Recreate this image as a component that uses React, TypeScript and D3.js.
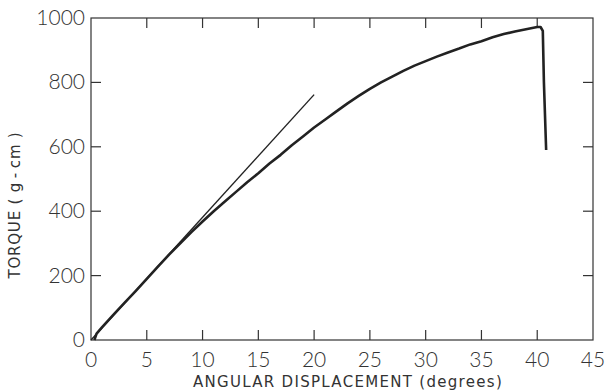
import React, { useEffect, useRef } from "react";
import * as d3 from "d3";

// measured curve, torque (g-cm) vs angular displacement (degrees)
const angle = [0.3, 0.5, 1, 2, 3, 4, 5, 6, 7, 8, 9, 10, 11, 12, 13, 14, 15, 16, 17, 18, 19, 20,
  21, 22, 23, 24, 25, 26, 27, 28, 29, 30, 31, 32, 33, 34, 35, 36, 37, 38, 39, 40, 40.3, 40.5, 40.6, 40.8];
const torque = [0, 20, 40, 78, 115, 152, 190, 228, 265, 300, 335, 368, 400, 430, 460, 490, 518, 548, 575, 605, 632, 660,
  685, 710, 735, 758, 780, 800, 818, 836, 852, 866, 880, 893, 905, 918, 928, 940, 950, 958, 965, 972, 972, 960, 800, 590];

// initial slope tangent line
const tangentX = [0, 20];
const tangentY = [0, 762];

const xTicks = [0, 5, 10, 15, 20, 25, 30, 35, 40, 45];
const yTicks = [0, 200, 400, 600, 800, 1000];

const W = 607;
const H = 392;
const margin = { top: 18, right: 14, bottom: 52, left: 91 };

export default function App() {
  const ref = useRef<SVGSVGElement>(null);

  useEffect(() => {
    const svg = d3.select(ref.current);
    svg.selectAll("*").remove();

    const x = d3.scaleLinear().domain([0, 45]).range([margin.left, W - margin.right]);
    const y = d3.scaleLinear().domain([0, 1000]).range([H - margin.bottom, margin.top]);
    const ink = "#333";
    const font = "'Lato', 'DejaVu Sans', sans-serif";
    const titleFont = "'DejaVu Sans', sans-serif";

    // frame
    svg.append("rect")
      .attr("x", x(0)).attr("y", y(1000))
      .attr("width", x(45) - x(0)).attr("height", y(0) - y(1000))
      .attr("fill", "none").attr("stroke", ink).attr("stroke-width", 1.2);

    // inward ticks on all four sides
    const inner = xTicks.filter(d => d > 0 && d < 45);
    const innerY = yTicks.filter(d => d > 0 && d < 1000);
    const tl = 10;
    const g = svg.append("g").attr("stroke", ink).attr("stroke-width", 1.2);
    inner.forEach(d => {
      g.append("line").attr("x1", x(d)).attr("x2", x(d)).attr("y1", y(0)).attr("y2", y(0) - tl);
      g.append("line").attr("x1", x(d)).attr("x2", x(d)).attr("y1", y(1000)).attr("y2", y(1000) + tl);
    });
    innerY.forEach(d => {
      g.append("line").attr("x1", x(0)).attr("x2", x(0) + tl).attr("y1", y(d)).attr("y2", y(d));
      g.append("line").attr("x1", x(45)).attr("x2", x(45) - tl).attr("y1", y(d)).attr("y2", y(d));
    });

    // tick labels
    svg.append("g").selectAll("text").data(xTicks).join("text")
      .attr("x", d => x(d)).attr("y", y(0) + 27)
      .attr("text-anchor", "middle")
      .attr("font-family", font).attr("font-weight", 300).attr("font-size", 21)
      .attr("fill", ink)
      .text(d => d);

    svg.append("g").selectAll("text").data(yTicks).join("text")
      .attr("x", x(0) - 6).attr("y", d => y(d) + 7)
      .attr("text-anchor", "end")
      .attr("font-family", font).attr("font-weight", 300).attr("font-size", 21)
      .attr("fill", ink)
      .text(d => d);

    // axis titles
    svg.append("text")
      .attr("x", 348).attr("y", 387)
      .attr("text-anchor", "middle")
      .attr("font-family", titleFont).attr("font-size", 15).attr("letter-spacing", 1.3)
      .attr("fill", ink)
      .text("ANGULAR DISPLACEMENT (degrees)");

    svg.append("text")
      .attr("transform", `translate(20,${205}) rotate(-90)`)
      .attr("text-anchor", "middle")
      .attr("font-family", titleFont).attr("font-size", 15).attr("letter-spacing", 0.8)
      .attr("fill", ink)
      .text("TORQUE ( g\u2009-\u2009cm )");

    // tangent line
    svg.append("line")
      .attr("x1", x(tangentX[0])).attr("y1", y(tangentY[0]))
      .attr("x2", x(tangentX[1])).attr("y2", y(tangentY[1]))
      .attr("stroke", "#222").attr("stroke-width", 1.4);

    // measured curve
    const line = d3.line<number>()
      .x((_, i) => x(angle[i]))
      .y(d => y(d))
      .curve(d3.curveLinear);
    svg.append("path")
      .attr("d", line(torque))
      .attr("fill", "none")
      .attr("stroke", "#222")
      .attr("stroke-width", 2.6)
      .attr("stroke-linejoin", "round");
  }, []);

  return (
    <svg ref={ref} width={W} height={H}
      style={{ position: "absolute", left: 0, top: 0, background: "#fff" }} />
  );
}
